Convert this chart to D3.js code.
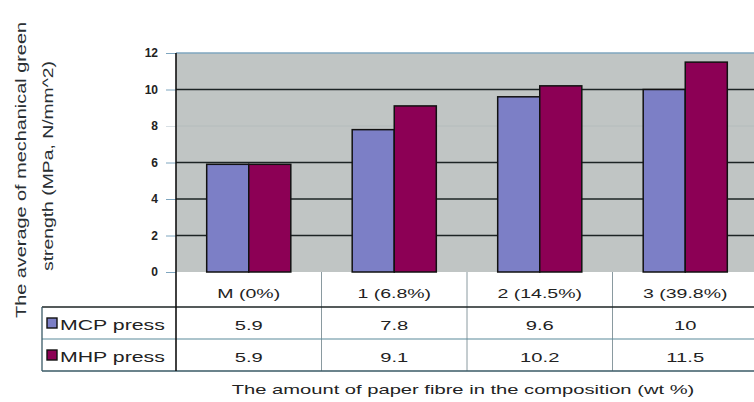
<!DOCTYPE html>
<html>
<head>
<meta charset="utf-8">
<script src="https://cdn.jsdelivr.net/npm/d3@7"></script>
<style>
  html, body { margin: 0; padding: 0; background: #fff; }
  svg { display: block; font-family: "Liberation Sans", Arial, sans-serif; }
</style>
</head>
<body>
<svg id="chart" width="754" height="402"></svg>
<script>
// Green strength by paper fibre content, two pressing methods
const categories = ["M (0%)", "1 (6.8%)", "2 (14.5%)", "3 (39.8%)"];
const seriesNames = ["MCP press", "MHP press"];
const mcpValues = [5.9, 7.8, 9.6, 10];
const mhpValues = [5.9, 9.1, 10.2, 11.5];
const mcpLabels = ["5.9", "7.8", "9.6", "10"];
const mhpLabels = ["5.9", "9.1", "10.2", "11.5"];
const yTicks = [0, 2, 4, 6, 8, 10, 12];
const colors = ["#7c7fc6", "#8c0055"];

const svg = d3.select("#chart");
const plotLeft = 176, plotRight = 758, plotTop = 53, plotBottom = 272;
const tableLeft = 42;
const rowBottoms = [307, 339, 371];

// the chart's lettering is set wide; widen each label by a factor
function widen(sel, k) {
  sel.each(function () {
    const w = this.getComputedTextLength();
    d3.select(this).attr("textLength", w * k).attr("lengthAdjust", "spacingAndGlyphs");
  });
}

const x0 = d3.scaleBand().domain(categories).range([plotLeft, plotRight]).paddingInner(0).paddingOuter(0);
const x1 = d3.scaleBand().domain(seriesNames).range([0, x0.bandwidth()]).paddingInner(0).paddingOuter(0.73);
const y = d3.scaleLinear().domain([0, 12]).range([plotBottom, plotTop]);

// plot background
svg.append("rect")
  .attr("x", plotLeft).attr("y", plotTop)
  .attr("width", plotRight - plotLeft).attr("height", plotBottom - plotTop)
  .attr("fill", "#c0c5c4");

// gridlines
svg.append("g").selectAll("line").data(yTicks.filter(t => t > 0)).join("line")
  .attr("x1", plotLeft).attr("x2", plotRight)
  .attr("y1", d => y(d)).attr("y2", d => y(d))
  .attr("stroke", d => d === 12 ? "#7fa6bf" : (d === 8 ? "#b4bcbc" : "#1c2424"))
  .attr("stroke-width", d => d === 8 ? 1 : 1.4);

// y axis
const yAxis = d3.axisLeft(y).tickValues(yTicks).tickSize(10).tickPadding(8);
const yg = svg.append("g").attr("transform", `translate(${plotLeft},0)`).call(yAxis);
yg.select(".domain").remove();
yg.selectAll(".tick line").attr("stroke", d => d === 8 ? "#d8dfe4" : "#7fa6bf");
yg.selectAll(".tick text").attr("fill", "#222").attr("font-size", 12).attr("font-weight", "bold")
  .attr("font-family", "'Liberation Sans Narrow', 'Liberation Sans', Arial, sans-serif");

// bars
const series = [mcpValues, mhpValues];
const groups = svg.append("g").selectAll("g").data(categories).join("g")
  .attr("transform", d => `translate(${x0(d)},0)`);
groups.selectAll("rect")
  .data((d, i) => seriesNames.map((s, j) => ({ s, j, v: series[j][i] })))
  .join("rect")
  .attr("x", d => x1(d.s))
  .attr("y", d => y(d.v))
  .attr("width", x1.bandwidth())
  .attr("height", d => y(0) - y(d.v))
  .attr("fill", d => colors[d.j])
  .attr("stroke", "#111")
  .attr("stroke-width", 1.5);

// data table
const tbl = svg.append("g");
tbl.selectAll("line.col").data(categories.slice(1)).join("line")
  .attr("class", "col")
  .attr("x1", d => x0(d)).attr("x2", d => x0(d))
  .attr("y1", plotBottom).attr("y2", rowBottoms[2])
  .attr("stroke", "#8a9aa0").attr("stroke-width", 1);
tbl.append("line").attr("x1", tableLeft).attr("x2", plotRight)
  .attr("y1", rowBottoms[0]).attr("y2", rowBottoms[0]).attr("stroke", "#1c2424").attr("stroke-width", 1.6);
tbl.append("line").attr("x1", tableLeft).attr("x2", plotRight)
  .attr("y1", rowBottoms[1]).attr("y2", rowBottoms[1]).attr("stroke", "#5a8a9a").attr("stroke-width", 1.2);
tbl.append("line").attr("x1", tableLeft).attr("x2", plotRight)
  .attr("y1", rowBottoms[2]).attr("y2", rowBottoms[2]).attr("stroke", "#3a5a66").attr("stroke-width", 1.3);
tbl.append("line").attr("x1", tableLeft).attr("x2", tableLeft)
  .attr("y1", rowBottoms[0]).attr("y2", rowBottoms[2]).attr("stroke", "#3a5a66").attr("stroke-width", 1.3);
tbl.append("line").attr("x1", plotLeft).attr("x2", plotLeft)
  .attr("y1", plotTop).attr("y2", rowBottoms[2]).attr("stroke", "#111").attr("stroke-width", 1.6);

// category labels
tbl.selectAll("text.cat").data(categories).join("text")
  .attr("class", "cat")
  .attr("x", d => x0(d) + x0.bandwidth() / 2)
  .attr("y", 298)
  .attr("text-anchor", "middle").attr("font-size", 13).attr("fill", "#222")
  .text(d => d)
  .call(widen, 1.5);

// value rows and legend keys
const rowLabels = [mcpLabels, mhpLabels];
const rowBaselines = [330, 362];
rowLabels.forEach((labels, r) => {
  const top = rowBottoms[r], bottom = rowBottoms[r + 1];
  tbl.selectAll(`text.v${r}`).data(labels).join("text")
    .attr("class", `v${r}`)
    .attr("x", (d, i) => x0(categories[i]) + x0.bandwidth() / 2)
    .attr("y", rowBaselines[r])
    .attr("text-anchor", "middle").attr("font-size", 13).attr("fill", "#222")
    .text(d => d)
    .call(widen, 1.55);
  tbl.append("rect")
    .attr("x", 47).attr("y", (top + bottom) / 2 - 5)
    .attr("width", 10).attr("height", 10)
    .attr("fill", colors[r]).attr("stroke", "#111").attr("stroke-width", 1.4);
  tbl.append("text")
    .attr("x", 60).attr("y", rowBaselines[r])
    .attr("font-size", 14).attr("fill", "#222")
    .text(seriesNames[r])
    .call(widen, 1.52);
});

// axis titles
svg.append("text")
  .attr("x", 463).attr("y", 394)
  .attr("text-anchor", "middle").attr("font-size", 13).attr("fill", "#222")
  .text("The amount of paper fibre in the composition (wt %)")
  .call(widen, 1.55);

const yTitle = svg.append("text")
  .attr("transform", "translate(0,170) rotate(-90)")
  .attr("text-anchor", "middle").attr("font-size", 14).attr("fill", "#2a2f33");
yTitle.append("tspan").attr("x", 0).attr("y", 26).attr("textLength", 296).attr("lengthAdjust", "spacingAndGlyphs")
  .text("The average of mechanical green");
yTitle.append("tspan").attr("x", 4).attr("y", 53).attr("textLength", 210).attr("lengthAdjust", "spacingAndGlyphs")
  .text("strength (MPa, N/mm^2)");
</script>
</body>
</html>
